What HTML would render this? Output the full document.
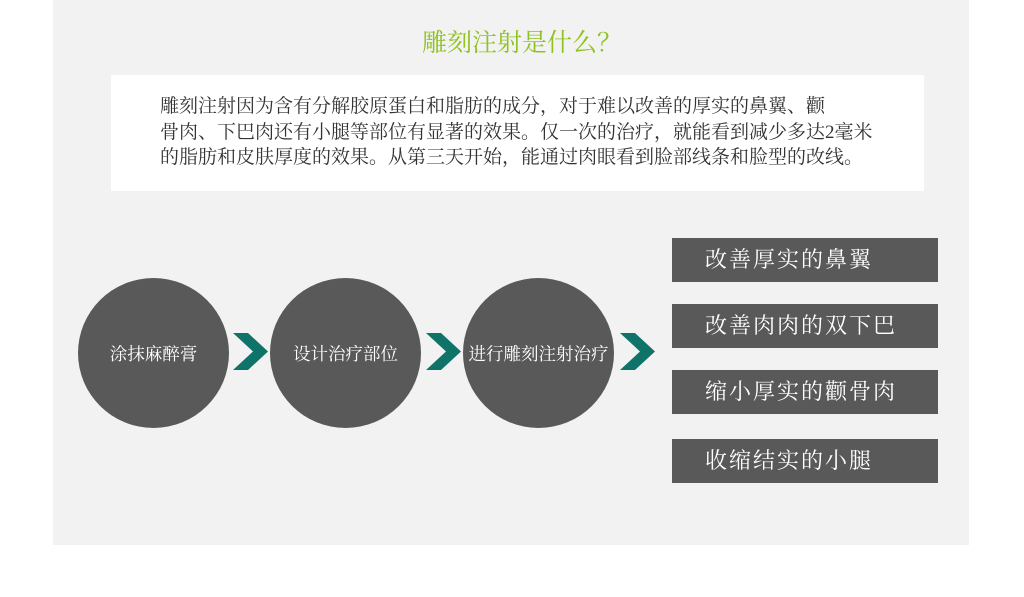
<!DOCTYPE html>
<html><head><meta charset="utf-8"><style>
body{margin:0;width:1024px;height:597px;background:#fff;position:relative;overflow:hidden;font-family:"Liberation Serif","Noto Serif CJK SC",serif;}
.panel{position:absolute;left:53px;top:0;width:916px;height:545px;background:#f2f2f2;}
.title{position:absolute;left:10px;width:1024px;top:28px;text-align:center;color:#8dc21f;font-size:25px;line-height:32px;}
.wbox{position:absolute;left:111px;top:75px;width:813px;height:116px;background:#fff;}
.txt{position:absolute;left:160px;top:94px;width:720px;font-size:19px;line-height:25.5px;color:#333;white-space:nowrap;}
.c{position:absolute;top:278px;width:151px;height:150px;border-radius:50%;background:#595959;color:#fff;font-size:17.5px;display:flex;align-items:center;justify-content:center;white-space:nowrap;}
.ch{position:absolute;top:333px;}
.b{position:absolute;left:672px;width:266px;height:44px;background:#595959;color:#fff;font-size:22px;line-height:44px;padding-left:33px;box-sizing:border-box;letter-spacing:2px;}
</style></head><body>
<div class="panel"></div>
<div class="title">雕刻注射是什么？</div>
<div class="wbox"></div>
<div class="txt">雕刻注射因为含有分解胶原蛋白和脂肪的成分，对于难以改善的厚实的鼻翼、颧<br>骨肉、下巴肉还有小腿等部位有显著的效果。仅一次的治疗，就能看到减少多达2毫米<br>的脂肪和皮肤厚度的效果。从第三天开始，能通过肉眼看到脸部线条和脸型的改线。</div>
<div class="c" style="left:78px">涂抹麻醉膏</div>
<div class="c" style="left:270px">设计治疗部位</div>
<div class="c" style="left:463px">进行雕刻注射治疗</div>
<svg class="ch" style="left:233px" width="36" height="37"><polygon points="0,0 15,0 35,18.5 15,37 0,37 20,18.5" fill="#0f736a"/></svg>
<svg class="ch" style="left:426px" width="36" height="37"><polygon points="0,0 15,0 35,18.5 15,37 0,37 20,18.5" fill="#0f736a"/></svg>
<svg class="ch" style="left:620px" width="36" height="37"><polygon points="0,0 15,0 35,18.5 15,37 0,37 20,18.5" fill="#0f736a"/></svg>
<div class="b" style="top:238px">改善厚实的鼻翼</div>
<div class="b" style="top:304px">改善肉肉的双下巴</div>
<div class="b" style="top:370px">缩小厚实的颧骨肉</div>
<div class="b" style="top:439px">收缩结实的小腿</div>
</body></html>
